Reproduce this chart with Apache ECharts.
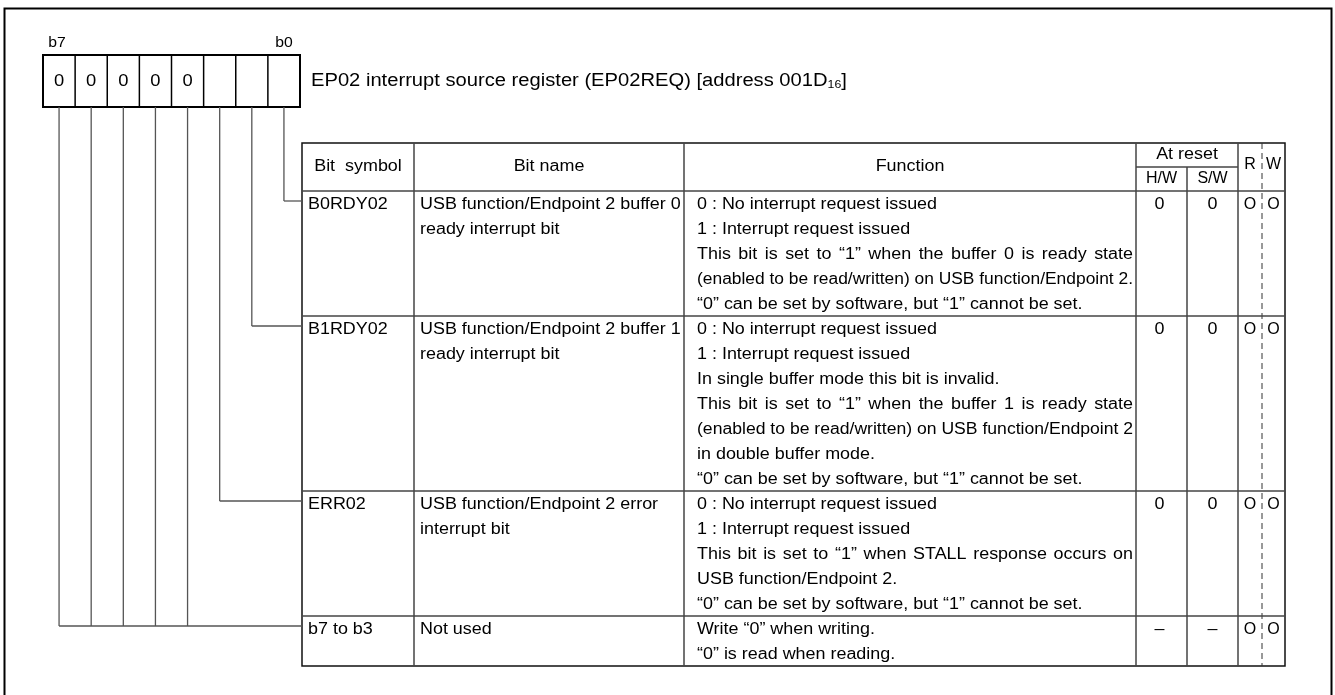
<!DOCTYPE html>
<html><head><meta charset="utf-8">
<script src="https://cdn.jsdelivr.net/npm/echarts@6.0.0/dist/echarts.min.js"></script>
<style>html,body{margin:0;padding:0;background:#fff}#c{width:1335px;height:695px}</style>
</head><body><div id="c"></div>
<script>
// ---------- data ----------
const bitEndLabels = ['b7', 'b0'];
const bitValues = ['0', '0', '0', '0', '0', '', '', ''];          // b7 ... b0
const titleMain = 'EP02 interrupt source register (EP02REQ) [address 001D';
const titleSub = '16';
const titleEnd = ']';
const headerLabels = ['Bit  symbol', 'Bit name', 'Function'];
const resetHeader = 'At reset';
const resetSubHeaders = ['H/W', 'S/W'];
const rwHeaders = ['R', 'W'];
const bitSymbols = ['B0RDY02', 'B1RDY02', 'ERR02', 'b7 to b3'];
const rowBits = [[0], [1], [2], [7, 6, 5, 4, 3]];
const bitNames = [
  ['USB function/Endpoint 2 buffer 0', 'ready interrupt bit'],
  ['USB function/Endpoint 2 buffer 1', 'ready interrupt bit'],
  ['USB function/Endpoint 2 error', 'interrupt bit'],
  ['Not used']
];
const functionLines = [
  ['0 : No interrupt request issued',
   '1 : Interrupt request issued',
   'This bit is set to \u201c1\u201d when the buffer 0 is ready state',
   '(enabled to be read/written) on USB function/Endpoint 2.',
   '\u201c0\u201d can be set by software, but \u201c1\u201d cannot be set.'],
  ['0 : No interrupt request issued',
   '1 : Interrupt request issued',
   'In single buffer mode this bit is invalid.',
   'This bit is set to \u201c1\u201d when the buffer 1 is ready state',
   '(enabled to be read/written) on USB function/Endpoint 2',
   'in double buffer mode.',
   '\u201c0\u201d can be set by software, but \u201c1\u201d cannot be set.'],
  ['0 : No interrupt request issued',
   '1 : Interrupt request issued',
   'This bit is set to \u201c1\u201d when STALL response occurs on',
   'USB function/Endpoint 2.',
   '\u201c0\u201d can be set by software, but \u201c1\u201d cannot be set.'],
  ['Write \u201c0\u201d when writing.',
   '\u201c0\u201d is read when reading.']
];
const resetHW = ['0', '0', '0', '\u2013'];
const resetSW = ['0', '0', '0', '\u2013'];
const readMarks = ['O', 'O', 'O', 'O'];
const writeMarks = ['O', 'O', 'O', 'O'];

// ---------- layout ----------
const FONT = '"Liberation Sans", Arial, Helvetica, sans-serif';
const SX = 1.12;
const FS = 16;
const LINE_H = 25;
const BOX = { x: 43, y: 55, w: 257, h: 52 };
const CELL_W = BOX.w / 8;
const T = { left: 302, top: 143, headH: 48 };
const COLS = [302, 414, 684, 1136, 1187, 1238, 1262, 1285];
const TEXT_C = '#000';
const LINE_C = '#444';

const mctx = document.createElement('canvas').getContext('2d');
function measure(s, size) { mctx.font = size + 'px ' + FONT; return mctx.measureText(s).width; }

const g = [];
function txt(s, x, y, opt) {
  opt = opt || {};
  const size = opt.size || FS;
  const align = opt.align || 'left';
  g.push({
    type: 'text', x: x, y: y, scaleX: opt.scaleX || SX, silent: true,
    style: { text: s, fontSize: size, fontFamily: FONT, fill: opt.fill || TEXT_C,
      align: align, textAlign: align, verticalAlign: 'middle', textVerticalAlign: 'middle' }
  });
}
function line(x1, y1, x2, y2, stroke, lw, dash) {
  g.push({ type: 'line', silent: true, shape: { x1, y1, x2, y2 },
    style: { stroke: stroke, lineWidth: lw, lineDash: dash || null } });
}
function rect(x, y, w, h, stroke, lw) {
  g.push({ type: 'rect', silent: true, shape: { x, y, width: w, height: h },
    style: { fill: 'none', stroke: stroke, lineWidth: lw } });
}

// outer frame
rect(4.5, 8.5, 1327, 720, '#000', 2);

// bit box
const cellCenter = i => BOX.x + CELL_W * (i + 0.5);
rect(BOX.x, BOX.y, BOX.w, BOX.h, '#000', 2);
for (let i = 1; i < 8; i++) line(BOX.x + CELL_W * i, BOX.y, BOX.x + CELL_W * i, BOX.y + BOX.h, '#000', 1.5);
bitValues.forEach((v, i) => { if (v) txt(v, cellCenter(i), BOX.y + BOX.h / 2, { align: 'center', size: 17, scaleX: 1.08 }); });
txt(bitEndLabels[0], cellCenter(0) - 2, 43, { align: 'center', size: 15, scaleX: 1.05 });
txt(bitEndLabels[1], cellCenter(7), 43, { align: 'center', size: 15, scaleX: 1.05 });

// title
const TX = 311, TY = 81, TFS = 18;
const tw = measure(titleMain, TFS) * SX;
txt(titleMain, TX, TY, { size: TFS });
txt(titleSub, TX + tw, TY + 4, { size: 11 });
const sw = measure(titleSub, 11) * SX;
txt(titleEnd, TX + tw + sw, TY, { size: TFS });

// table rows geometry
const rowLines = functionLines.map((f, r) => Math.max(f.length, bitNames[r].length));
const rowTops = [];
let yy = T.top + T.headH;
rowLines.forEach(n => { rowTops.push(yy); yy += n * LINE_H; });
const tableBottom = yy;
const headMid = T.top + T.headH / 2;

// table grid
rect(T.left, T.top, COLS[7] - T.left, tableBottom - T.top, '#111', 1.5);
[1, 2, 3, 5].forEach(k => line(COLS[k], T.top, COLS[k], tableBottom, LINE_C, 1.5));
line(COLS[4], headMid, COLS[4], tableBottom, LINE_C, 1.5);
line(COLS[6], T.top, COLS[6], tableBottom, '#333', 1, [6, 4]);
line(COLS[3], headMid, COLS[5], headMid, LINE_C, 1.5);
rowTops.forEach(y => line(T.left, y, COLS[7], y, LINE_C, 1.5));

// header texts
txt(headerLabels[0], (COLS[0] + COLS[1]) / 2, headMid, { align: 'center' });
txt(headerLabels[1], (COLS[1] + COLS[2]) / 2, headMid, { align: 'center' });
txt(headerLabels[2], (COLS[2] + COLS[3]) / 2, headMid, { align: 'center' });
txt(resetHeader, (COLS[3] + COLS[5]) / 2, T.top + T.headH / 4, { align: 'center' });
txt(resetSubHeaders[0], (COLS[3] + COLS[4]) / 2, T.top + T.headH * 3 / 4, { align: 'center', scaleX: 1.0 });
txt(resetSubHeaders[1], (COLS[4] + COLS[5]) / 2, T.top + T.headH * 3 / 4, { align: 'center', scaleX: 1.0 });
txt(rwHeaders[0], (COLS[5] + COLS[6]) / 2, headMid - 2, { align: 'center', scaleX: 1.0 });
txt(rwHeaders[1], (COLS[6] + COLS[7]) / 2, headMid - 2, { align: 'center', scaleX: 1.0 });

// function text with justification
const FX = COLS[2] + 13, FAVAIL = COLS[3] - 3 - FX;
function funcLine(s, y) {
  const w = measure(s, FS) * SX;
  if (w > FAVAIL) { txt(s, FX, y, { scaleX: SX * FAVAIL / w }); return; }
  if (w > 0.92 * FAVAIL) {
    const words = s.split(' ');
    const ws = words.map(wd => measure(wd, FS) * SX);
    const gap = (FAVAIL - ws.reduce((a, b) => a + b, 0)) / (words.length - 1);
    let x = FX;
    words.forEach((wd, i) => { txt(wd, x, y); x += ws[i] + gap; });
    return;
  }
  txt(s, FX, y);
}

// rows
rowTops.forEach((top, r) => {
  const y0 = top + 14;
  txt(bitSymbols[r], COLS[0] + 6, y0);
  bitNames[r].forEach((s, i) => txt(s, COLS[1] + 6, y0 + i * LINE_H));
  functionLines[r].forEach((s, i) => funcLine(s, y0 + i * LINE_H));
  txt(resetHW[r], (COLS[3] + COLS[4]) / 2 - 2, y0, { align: 'center' });
  txt(resetSW[r], (COLS[4] + COLS[5]) / 2, y0, { align: 'center' });
  txt(readMarks[r], (COLS[5] + COLS[6]) / 2, y0, { align: 'center', scaleX: 1.0 });
  txt(writeMarks[r], (COLS[6] + COLS[7]) / 2, y0, { align: 'center', scaleX: 1.0 });

  // connector lines from bit box
  const cy = top + 10;
  const xs = rowBits[r].map(b => cellCenter(7 - b));
  xs.forEach(x => line(x, BOX.y + BOX.h, x, cy, '#555', 1.3));
  line(Math.min.apply(null, xs), cy, T.left, cy, '#555', 1.3);
});

const chart = echarts.init(document.getElementById('c'), null, { renderer: 'canvas' });
chart.setOption({ animation: false, backgroundColor: '#fff', graphic: { elements: g } });
</script></body></html>
